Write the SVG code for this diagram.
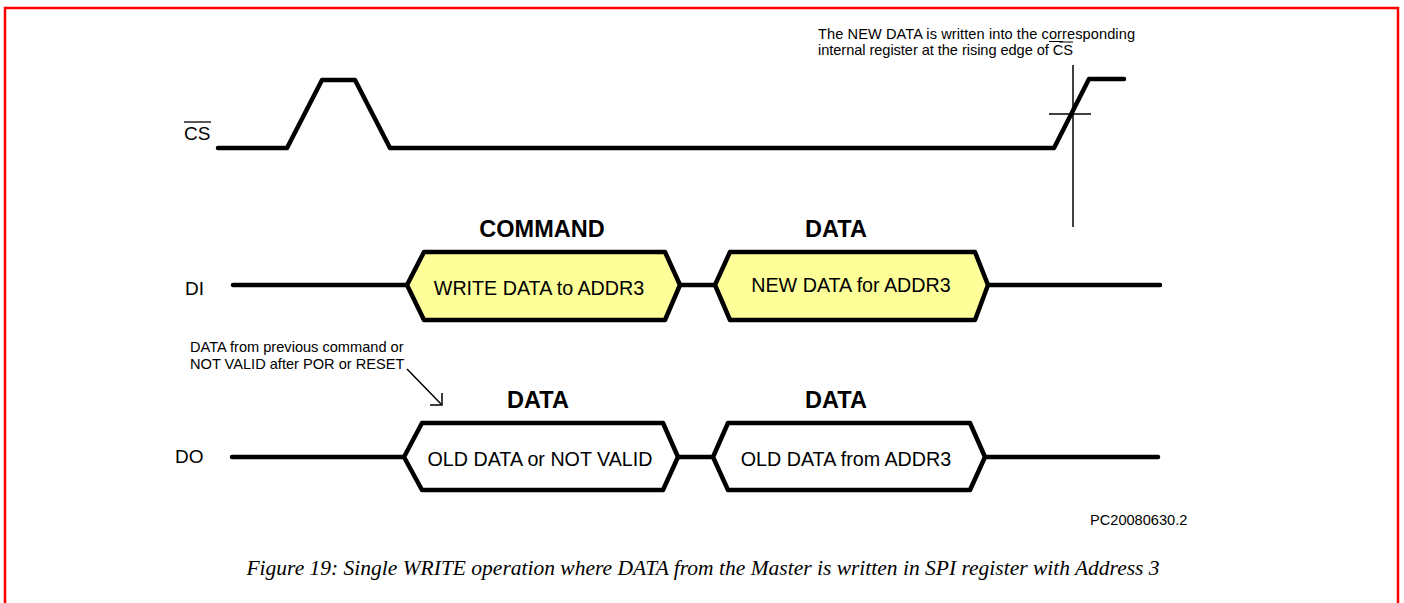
<svg xmlns="http://www.w3.org/2000/svg" width="1404" height="603" viewBox="0 0 1404 603">
<style>
.wave{fill:none;stroke:#000;stroke-width:4.5;stroke-linejoin:round;stroke-linecap:round}
.thin{fill:none;stroke:#000;stroke-width:1.5}
.box{stroke:#000;stroke-width:4.5;stroke-linejoin:round}
.yel{fill:#FFFF99}
.wht{fill:#FFFFFF}
.t{font-family:"Liberation Sans",Arial,sans-serif;fill:#000}
.lbl{font-size:19px}
.head{font-size:23.5px;font-weight:bold;text-anchor:middle}
.btxt{font-size:19.7px;text-anchor:middle}
.note{font-size:14.6px}
.cap{font-family:"Liberation Serif","Times New Roman",serif;font-style:italic;font-size:21.5px;text-anchor:middle;fill:#000}
</style>
<rect x="0" y="0" width="1404" height="603" fill="#fff"/>
<path d="M5,610 V8 H1398 V610" fill="none" stroke="#ff0000" stroke-width="2.5"/>

<g id="cs-signal">
<text class="t lbl" x="184" y="140">CS</text>
<line x1="184" y1="122" x2="211" y2="122" stroke="#000" stroke-width="1.3"/>
<polyline class="wave" points="218,148 287,148 322,80 355,80 390,148 1054,148 1089,79 1124,79"/>
</g>

<g id="cs-marker">
<line class="thin" x1="1073" y1="65" x2="1073" y2="227"/>
<line class="thin" x1="1049" y1="114" x2="1091" y2="114"/>
</g>

<g id="note-top">
<text class="t note" x="818" y="38.5" textLength="317" lengthAdjust="spacing">The NEW DATA is written into the corresponding</text>
<text class="t note" x="818" y="55" textLength="255" lengthAdjust="spacing">internal register at the rising edge of CS</text>
<line x1="1049" y1="41.5" x2="1063" y2="41.5" stroke="#000" stroke-width="1"/>
<line x1="1059" y1="42" x2="1073" y2="42" stroke="#000" stroke-width="1"/>
</g>

<g id="di-signal">
<text class="t lbl" x="185" y="295">DI</text>
<text class="t head" x="542" y="237">COMMAND</text>
<text class="t head" x="836" y="237">DATA</text>
</g>

<g id="di-box1">
<polygon class="box yel" points="407,285 424,252 665,252 680,285 665,320 424,320"/>
<text class="t btxt" x="539" y="295">WRITE DATA to ADDR3</text>
</g>

<g id="di-box2">
<polygon class="box yel" points="715,285 730,252 975,252 988,285 975,320 730,320"/>
<text class="t btxt" x="851" y="292">NEW DATA for ADDR3</text>
</g>

<g id="do-signal">
<text class="t lbl" x="175" y="463">DO</text>
<text class="t head" x="538" y="408">DATA</text>
<text class="t head" x="836" y="408">DATA</text>
</g>

<g id="do-box1">
<polygon class="box wht" points="404,457 422,423 663,423 678,457 663,490 422,490"/>
<text class="t btxt" x="540" y="466">OLD DATA or NOT VALID</text>
</g>

<g id="do-box2">
<polygon class="box wht" points="713,457 728,423 970,423 985,457 970,490 728,490"/>
<text class="t btxt" x="846" y="466">OLD DATA from ADDR3</text>
</g>

<g id="note-do">
<text class="t note" x="190" y="352">DATA from previous command or</text>
<text class="t note" x="190" y="369">NOT VALID after POR or RESET</text>
</g>

<g id="connectors">
<line class="wave" x1="233" y1="285" x2="407" y2="285"/>
<line class="wave" x1="680" y1="285" x2="715" y2="285"/>
<line class="wave" x1="988" y1="285" x2="1160" y2="285"/>
<line class="wave" x1="232" y1="457" x2="404" y2="457"/>
<line class="wave" x1="678" y1="457" x2="713" y2="457"/>
<line class="wave" x1="985" y1="457" x2="1158" y2="457"/>
<line class="thin" x1="407" y1="369" x2="441" y2="404"/>
<polyline class="thin" points="430,405 442,405 442,393"/>
</g>

<text class="t note" x="1090" y="525">PC20080630.2</text>
<text class="cap" x="703" y="575">Figure 19: Single WRITE operation where DATA from the Master is written in SPI register with Address 3</text>
</svg>
